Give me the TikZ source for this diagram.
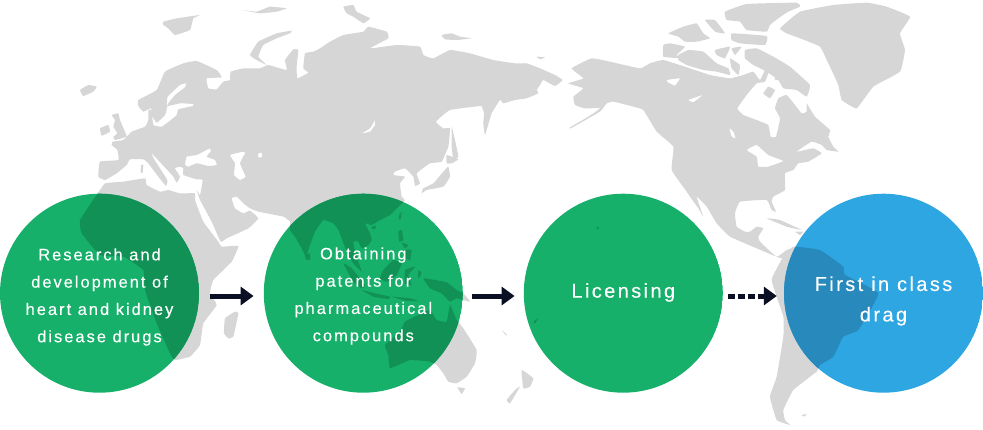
\documentclass[tikz,border=0pt]{standalone}
\usepackage{fontspec}
\setmainfont[LetterSpace=12,FakeBold=0.25]{Liberation Sans}
\usetikzlibrary{arrows.meta}

\definecolor{landgray}{HTML}{D6D6D6}
\definecolor{stepgreen}{HTML}{16B06A}
\definecolor{landgreen}{HTML}{119155}
\definecolor{stepblue}{HTML}{2EA6E2}
\definecolor{landblue}{HTML}{2889BD}
\definecolor{flownavy}{HTML}{0A0F23}

\tikzset{
  stepcircle/.style={circle,minimum size=199pt,inner sep=0pt,align=center,text=white},
  smalltext/.style={font=\fontsize{16.5}{27.3}\selectfont},
  bigtext/.style={font=\fontsize{20}{30.5}\selectfont},
  flow/.style={draw=flownavy,line width=5pt,-{Triangle[length=13pt,width=18pt,fill=flownavy]}},
  coast/.style={smooth cycle,tension=0.2},
}

% map traced at three times the picture size
\newcommand{\landmap}[1]{%
\begin{scope}[x=0.33333pt,y=-0.33333pt]
% Eurasia
\fill[#1,even odd rule] plot[coast] coordinates {(315,540)(295,530)(300,485)(355,480)(352,450)(335,435)(338,425)(370,420)(395,395)(435,380)(445,360)(445,330)(455,332)(460,375)(485,380)(510,362)(530,345)(535,328)(578,318)(580,312)(540,310)(502,318)(503,290)(540,255)(558,250)(555,262)(525,285)(505,310)(495,345)(470,368)(458,350)(453,325)(430,335)(415,318)(415,300)(470,270)(495,215)(550,190)(590,183)(650,210)(665,232)(620,235)(625,265)(650,268)(670,245)(690,240)(692,215)(730,205)(780,205)(805,195)(860,210)(855,180)(880,148)(895,150)(890,200)(892,235)(925,218)(910,205)(915,160)(940,155)(960,145)(990,125)(1030,105)(1090,95)(1105,80)(1160,95)(1165,115)(1110,145)(1190,135)(1260,140)(1270,165)(1300,175)(1350,150)(1410,160)(1480,180)(1545,190)(1580,190)(1620,205)(1665,225)(1688,240)(1665,258)(1630,240)(1620,255)(1610,270)(1615,280)(1580,295)(1545,300)(1510,310)(1500,300)(1475,340)(1455,405)(1450,370)(1452,340)(1445,318)(1440,318)(1350,330)(1308,365)(1330,385)(1350,385)(1345,440)(1325,485)(1290,490)(1250,520)(1260,550)(1245,558)(1240,530)(1215,505)(1185,515)(1180,525)(1215,530)(1200,550)(1205,590)(1215,600)(1200,615)(1170,645)(1140,660)(1115,675)(1095,670)(1110,700)(1115,720)(1105,735)(1085,745)(1075,725)(1060,725)(1065,755)(1080,800)(1085,815)(1060,790)(1040,755)(1025,715)(1015,690)(1000,670)(970,660)(945,695)(930,735)(918,770)(905,745)(885,710)(870,690)(870,665)(850,650)(775,635)(750,625)(730,610)(710,590)(695,595)(705,625)(730,640)(750,632)(775,655)(745,685)(680,715)(662,725)(635,665)(600,600)(590,570)(600,585)(608,540)(590,538)(550,525)(550,505)(540,500)(525,505)(540,530)(530,548)(520,530)(502,510)(455,460)(465,482)(502,540)(498,558)(475,530)(445,490)(430,478)(390,478)(380,495)(350,520)}
  plot[coast] coordinates {(555,495)(560,470)(590,465)(610,455)(630,445)(632,455)(620,470)(645,480)(650,495)(625,498)(590,490)(565,500)}
  plot[coast] coordinates {(690,465)(730,455)(735,460)(720,490)(737,530)(720,540)(702,525)(705,490)}
  plot[coast] coordinates {(775,460)(785,458)(785,472)(775,472)}
  plot[coast] coordinates {(1085,400)(1110,385)(1125,360)(1125,375)(1110,395)};
% Africa
\fill[#1] plot[coast] coordinates {(585,600)(610,665)(655,725)(665,740)(715,738)(695,785)(640,840)(630,880)(650,915)(610,970)(600,1035)(570,1070)(525,1080)(510,1060)(470,970)(435,870)(430,810)(370,770)(300,765)(245,700)(240,660)(290,585)(315,550)(370,545)(435,535)(440,555)(480,575)(505,570)(540,580)(585,580)};
% Australia
\fill[#1] plot[coast] coordinates {(1155,1035)(1200,995)(1215,965)(1255,945)(1290,930)(1310,960)(1340,965)(1350,915)(1370,960)(1390,985)(1430,1050)(1425,1090)(1400,1130)(1370,1150)(1345,1145)(1330,1120)(1310,1095)(1290,1085)(1230,1080)(1170,1105)(1165,1065)};
% North America
\fill[#1,even odd rule] plot[coast] coordinates {(1715,205)(1775,175)(1830,185)(1920,205)(1950,190)(1990,180)(2070,205)(2130,225)(2190,235)(2230,225)(2260,215)(2280,240)(2295,210)(2310,205)(2295,245)(2270,250)(2240,285)(2212,325)(2230,345)(2270,360)(2305,375)(2312,410)(2328,410)(2340,355)(2325,325)(2335,295)(2360,285)(2385,315)(2405,340)(2420,335)(2420,310)(2445,350)(2490,390)(2485,410)(2500,440)(2515,455)(2480,450)(2465,435)(2435,425)(2390,455)(2440,445)(2465,460)(2425,485)(2395,490)(2380,510)(2355,520)(2355,570)(2320,590)(2315,605)(2328,635)(2315,630)(2300,600)(2220,605)(2205,640)(2210,680)(2235,695)(2250,695)(2270,680)(2290,685)(2275,710)(2280,725)(2330,770)(2360,750)(2380,745)(2345,775)(2270,745)(2190,710)(2150,670)(2120,620)(2090,590)(2110,650)(2095,625)(2070,590)(2060,575)(2015,510)(2020,440)(1970,395)(1930,330)(1900,320)(1840,305)(1820,310)(1800,335)(1712,385)(1710,382)(1765,350)(1800,325)(1755,325)(1725,315)(1720,290)(1750,265)(1705,250)(1750,235)}
  plot[coast] coordinates {(2000,240)(2040,235)(2025,257)(2005,248)}
  plot[coast] coordinates {(2065,300)(2108,285)(2080,307)}
  plot[coast] coordinates {(2188,385)(2200,395)(2207,415)(2195,410)}
  plot[coast] coordinates {(2240,450)(2270,435)(2305,465)(2350,483)(2305,500)(2275,500)(2270,470)};
% South America
\fill[#1] plot[coast] coordinates {(2380,740)(2460,750)(2530,800)(2535,825)(2635,880)(2575,990)(2530,1010)(2500,1070)(2460,1095)(2450,1115)(2380,1170)(2350,1230)(2355,1260)(2370,1275)(2330,1260)(2310,1190)(2330,1130)(2350,1010)(2350,950)(2315,840)(2350,770)};
% Greenland
\fill[#1] plot[coast] coordinates {(2340,85)(2400,35)(2500,15)(2600,8)(2660,20)(2730,50)(2700,100)(2715,150)(2700,215)(2620,260)(2570,325)(2525,300)(2515,255)(2485,190)(2460,140)(2400,115)(2360,100)};
% Canadian islands
\fill[#1] plot[coast] coordinates {(2175,35)(2240,12)(2390,8)(2400,20)(2365,35)(2335,55)(2310,75)(2300,95)(2240,90)(2220,65)(2180,60)}
  plot[coast] coordinates {(2195,100)(2300,108)(2295,135)(2220,130)(2195,120)}
  plot[coast] coordinates {(2005,100)(2050,80)(2090,70)(2110,100)(2130,115)(2090,125)(2055,125)(2035,110)}
  plot[coast] coordinates {(2115,60)(2145,60)(2175,100)(2145,95)}
  plot[coast] coordinates {(1990,135)(2010,130)(2055,140)(2030,165)(2045,175)(1990,170)}
  plot[coast] coordinates {(2035,165)(2065,150)(2110,155)(2150,190)(2185,205)(2190,225)(2150,215)(2110,210)(2060,195)(2035,180)}
  plot[coast] coordinates {(2145,150)(2190,140)(2175,175)(2150,165)}
  plot[coast] coordinates {(2195,145)(2225,140)(2205,165)}
  plot[coast] coordinates {(2190,175)(2220,195)(2215,225)(2195,205)}
  plot[coast] coordinates {(2235,150)(2270,145)(2320,170)(2370,200)(2430,255)(2420,290)(2390,270)(2350,265)(2335,240)(2300,215)(2260,195)(2235,175)}
  plot[coast] coordinates {(2305,260)(2325,270)(2310,295)(2290,280)}
  plot[coast] coordinates {(2325,225)(2340,225)(2340,240)(2325,240)};
% Arctic and Atlantic islands, Japan
\fill[#1] plot[coast] coordinates {(750,165)(775,125)(830,100)(875,92)(870,100)(830,115)(790,135)(775,170)(800,195)(770,180)}
  plot[coast] coordinates {(490,65)(530,55)(600,45)(580,55)(570,90)(525,105)(505,85)(490,75)}
  plot[coast] coordinates {(725,30)(770,35)(810,20)(860,25)(830,35)(780,40)}
  plot[coast] coordinates {(1030,20)(1060,15)(1070,35)(1110,55)(1090,70)(1060,50)(1040,40)}
  plot[coast] coordinates {(1325,105)(1355,100)(1380,110)(1415,115)(1370,120)(1335,118)}
  plot[coast] coordinates {(240,270)(265,255)(290,260)(280,275)(250,288)}
  plot[coast] coordinates {(335,345)(355,340)(360,360)(375,395)(380,410)(345,420)(340,410)(352,400)(340,380)(345,360)}
  plot[coast] coordinates {(300,385)(325,375)(330,395)(305,407)}
  plot[coast] coordinates {(423,495)(430,495)(428,518)(422,518)}
  plot[coast] coordinates {(1355,380)(1365,420)(1375,470)(1360,478)(1355,440)}
  plot[coast] coordinates {(1340,465)(1375,478)(1355,490)(1340,490)}
  plot[coast] coordinates {(1345,500)(1350,530)(1330,560)(1280,570)(1265,580)(1270,565)(1300,550)(1330,515)}
  plot[coast] coordinates {(1610,170)(1635,172)(1620,178)};
% islands of the south
\fill[#1] plot[coast] coordinates {(705,935)(715,940)(700,1010)(685,1015)(672,1000)(675,955)}
  plot[coast] coordinates {(915,765)(930,760)(930,780)(918,778)}
  plot[coast] coordinates {(1115,680)(1128,677)(1125,687)(1116,687)}
  plot[coast] coordinates {(1198,645)(1205,635)(1202,657)(1196,657)}
  plot[coast] coordinates {(1195,695)(1205,690)(1210,720)(1198,725)}
  plot[coast] coordinates {(1205,728)(1225,735)(1215,745)}
  plot[coast] coordinates {(1215,750)(1235,750)(1230,780)(1215,775)}
  plot[coast] coordinates {(1150,810)(1180,780)(1205,790)(1190,825)(1160,845)(1140,835)}
  plot[coast] coordinates {(1030,790)(1055,805)(1095,855)(1085,865)(1060,845)}
  plot[coast] coordinates {(1085,870)(1125,880)(1170,890)(1165,897)(1120,890)}
  plot[coast] coordinates {(1175,890)(1230,895)(1255,903)(1220,903)}
  plot[coast] coordinates {(1215,810)(1245,800)(1225,825)(1235,855)(1215,850)}
  plot[coast] coordinates {(1255,810)(1265,820)(1255,835)}
  plot[coast] coordinates {(1270,835)(1305,840)(1340,847)(1370,870)(1390,880)(1410,905)(1370,895)(1350,905)(1325,880)(1290,865)}
  plot[coast] coordinates {(1372,1162)(1395,1165)(1385,1182)}
  plot[coast] coordinates {(1565,1110)(1600,1135)(1590,1160)(1570,1165)}
  plot[coast] coordinates {(1560,1160)(1530,1210)(1520,1200)(1545,1170)}
  plot[coast] coordinates {(1505,990)(1522,1005)(1518,1006)}
  plot[coast] coordinates {(1790,680)(1796,680)(1796,687)(1790,687)}
  plot[coast] coordinates {(1600,965)(1615,955)(1605,970)}
  plot[coast] coordinates {(2300,655)(2340,660)(2405,690)(2360,680)}
  plot[coast] coordinates {(2385,695)(2410,695)(2400,705)}
  plot[coast] coordinates {(2405,1245)(2420,1242)(2412,1250)};
\end{scope}}

\begin{document}
\begin{tikzpicture}[x=1pt,y=-1pt]
\useasboundingbox (0,0) rectangle (983,429);

\landmap{landgray}

% the discs, with the land showing through them
\foreach \cx/\basecol/\landcol in {99.5/stepgreen/landgreen,363.3/stepgreen/landgreen,623.3/stepgreen/landgreen,883.5/stepblue/landblue}{
  \begin{scope}
    \clip (\cx,293.2) circle (99.5);
    \fill[\basecol] (\cx,293.2) circle (100);
    \landmap{\landcol}
  \end{scope}
}

\coordinate (flowline) at (0,296);

\node[stepcircle,smalltext] (research) at (99.5,297) {Research and\\development of\\heart and kidney\\disease drugs};
\node[stepcircle,smalltext] (patents) at (363.3,296) {Obtaining\\patents for\\pharmaceutical\\compounds};
\node[stepcircle,bigtext] (licensing) at (623.3,292.5) {Licensing};
\node[stepcircle,bigtext] (firstclass) at (883.5,301) {First in class\\drag};

\draw[flow,shorten <=11pt,shorten >=10pt] (research.east |- flowline) -- (patents.west |- flowline);
\draw[flow,shorten <=9pt,shorten >=9pt] (patents.east |- flowline) -- (licensing.west |- flowline);
\draw[flow,dash pattern=on 7pt off 3pt,shorten <=5pt,shorten >=7pt] (licensing.east |- flowline) -- (firstclass.west |- flowline);
\end{tikzpicture}
\end{document}
